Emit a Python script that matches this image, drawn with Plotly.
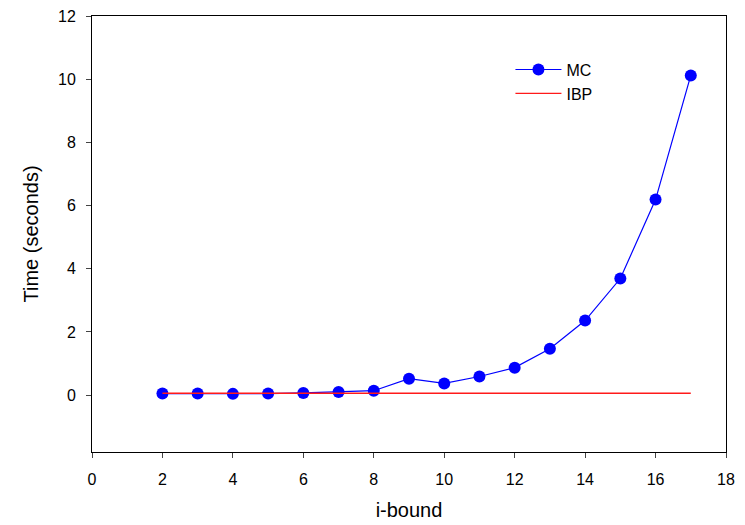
import plotly.graph_objects as go

i_bound = [2, 3, 4, 5, 6, 7, 8, 9, 10, 11, 12, 13, 14, 15, 16, 17]
mc_time = [0.05, 0.05, 0.04, 0.05, 0.07, 0.10, 0.14, 0.52, 0.37, 0.59, 0.87, 1.47, 2.36, 3.69, 6.19, 10.12]
ibp_time = [0.06] * len(i_bound)

x_ticks = [0, 2, 4, 6, 8, 10, 12, 14, 16, 18]
y_ticks = [0, 2, 4, 6, 8, 10, 12]

fig = go.Figure()
fig.add_trace(go.Scatter(
    x=i_bound, y=mc_time, name="MC", mode="lines+markers",
    line=dict(color="#0000ff", width=1.2),
    marker=dict(color="#0000ff", size=12),
))
fig.add_trace(go.Scatter(
    x=i_bound, y=ibp_time, name="IBP", mode="lines",
    line=dict(color="#ff1a1a", width=1.3),
))

fig.update_layout(
    width=745, height=525,
    margin=dict(l=92, r=19, t=16, b=73, autoexpand=False),
    paper_bgcolor="white", plot_bgcolor="white",
    font=dict(family="Liberation Sans, Arial, sans-serif", size=16, color="black"),
    showlegend=True,
    legend=dict(x=0.66, y=0.916, xanchor="left", yanchor="top",
                bgcolor="rgba(0,0,0,0)", font=dict(size=16),
                tracegroupgap=0, itemwidth=46),
    xaxis=dict(
        range=[0, 18], tickvals=x_ticks, ticks="outside", ticklen=5,
        ticklabelstandoff=8, automargin=False,
        showline=True, linecolor="black", linewidth=1, mirror=True,
        showgrid=False, zeroline=False,
        title=dict(text="i-bound", font=dict(size=20), standoff=15),
    ),
    yaxis=dict(
        range=[-1.8, 12], tickvals=y_ticks, ticks="outside", ticklen=5,
        ticklabelstandoff=7, automargin=False,
        showline=True, linecolor="black", linewidth=1, mirror=True,
        showgrid=False, zeroline=False,
        title=dict(text="Time (seconds)", font=dict(size=20), standoff=14),
    ),
)

fig.write_html("out.html")
